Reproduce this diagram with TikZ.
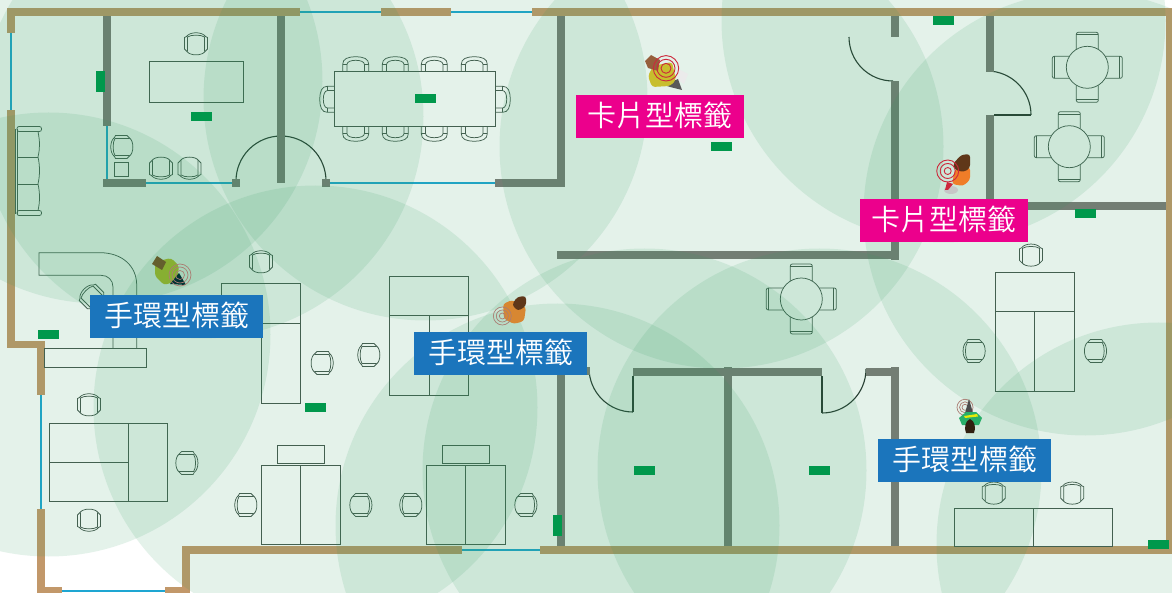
\documentclass[tikz,border=0pt]{standalone}
\usepackage{fontspec}
\newfontfamily\cjk{Noto Sans CJK TC DemiLight}
\definecolor{tan}{RGB}{194,152,106}
\definecolor{gw}{RGB}{125,122,120}
\definecolor{glass}{RGB}{30,166,210}
\definecolor{fur}{RGB}{70,88,78}
\definecolor{doorc}{RGB}{38,50,44}
\definecolor{wave}{RGB}{47,155,95}
\definecolor{beacon}{RGB}{0,152,76}
\definecolor{bandblue}{RGB}{27,117,188}
\definecolor{cardpink}{RGB}{236,0,140}
\definecolor{ringred}{RGB}{205,40,60}
\definecolor{ringpale}{RGB}{170,125,115}
\definecolor{yellowb}{RGB}{200,190,45}
\definecolor{orangeb}{RGB}{240,125,40}
\definecolor{tanb}{RGB}{215,135,50}
\definecolor{limeb}{RGB}{135,175,50}
\definecolor{greenb}{RGB}{40,175,105}
\definecolor{hair}{RGB}{95,55,25}
\definecolor{bag}{RGB}{150,95,60}
\definecolor{olivebag}{RGB}{100,95,45}
\tikzset{
  x=1pt,y=-1pt,
  tanw/.style={fill=tan,draw=none},
  grayw/.style={fill=gw,draw=none},
  glassline/.style={draw=glass,line width=2pt},
  furn/.style={draw=fur,line width=0.75pt,fill=none},
  doorline/.style={draw=doorc,line width=1.1pt},
  cover/.style={fill=wave,fill opacity=0.125,draw=none},
  beaconbox/.style={fill=beacon,draw=none},
  taglabel/.style={text=white,font=\cjk\fontsize{29}{29}\selectfont,inner sep=0pt,anchor=center},
  softbody/.style={rounded corners=3pt},
  pics/tubchair/.style={code={
    \draw[furn] (-9.5,-7.5) .. controls (-6,-12.5) and (6,-12.5) .. (9.5,-7.5) -- (11.5,-6.5) -- (11.5,5) -- (9,7.5) .. controls (6,12) and (-6,12) .. (-9,7.5) -- (-11.5,5) -- (-11.5,-6.5) -- cycle;
    \draw[furn] (-8.5,7.5) -- (-8.5,-7) .. controls (-5,-9.5) and (5,-9.5) .. (8.5,-7) -- (8.5,7.5);
  }},
  pics/confchair/.style={code={
    \draw[furn] (-13,0) -- (-13,-7) .. controls (-13,-12.5) and (-8,-14.5) .. (0,-14.5) .. controls (8,-14.5) and (13,-12.5) .. (13,-7) -- (13,0);
    \draw[furn] (-8.7,0) -- (-8.7,-7) .. controls (-8.5,-9.5) and (-5,-11) .. (0,-11) .. controls (5,-11) and (8.5,-9.5) .. (8.7,-7) -- (8.7,0);
    \draw[furn] (-13,-7) -- (-8.7,-7) (13,-7) -- (8.7,-7);
  }},
  pics/roundset/.style={code={
    \foreach \a in {0,90,180,270}{
      \begin{scope}[rotate=\a]
      \draw[furn,rounded corners=2pt] (-11,-18) -- (-11,-35) -- (11,-35) -- (11,-18);
      \draw[furn] (-11,-32.5) -- (11,-32.5);
      \end{scope}
    }
    \draw[furn] (0,0) circle[radius=21pt];
  }},
}
\begin{document}
\begin{tikzpicture}
\useasboundingbox (0,0) rectangle (1172,593);
\fill[white] (0,0) rectangle (1172,593);
\begin{scope}
\clip (0,0) rectangle (1172,593);
% glass
\draw[glassline] (11,33) -- (11,110);
\draw[glassline] (300,12) -- (381,12) (451,12) -- (532,12);
\draw[glassline] (41,395) -- (41,510);
\draw[glassline] (62,591) -- (165,591);
\draw[glassline] (462,550) -- (540,550);
\draw[glassline] (107,126) -- (107,180);
\draw[glassline] (146,183) -- (232,183);
\draw[glassline] (330,183) -- (495,183);
% door arcs
\draw[doorline] (236,181) arc[start angle=180,end angle=0,radius=45pt];
\draw[doorline] (849,37) arc[start angle=180,end angle=270,radius=44pt];
\draw[doorline] (987,71) arc[start angle=90,end angle=0,radius=44pt];
\draw[doorline] (994,115) -- (1031,115);
\draw[doorline] (589,368) arc[start angle=180,end angle=270,radius=44pt];
\draw[doorline] (633,376) -- (633,412);
\draw[doorline] (822,413) arc[start angle=270,end angle=360,radius=44pt];
\draw[doorline] (822,376) -- (822,413);
% gray walls
\fill[grayw] (103,15) rectangle (111,126);
\fill[grayw] (103,179) rectangle (146,187);
\fill[grayw] (232,179) rectangle (240,187);
\fill[grayw] (277,15) rectangle (285,183);
\fill[grayw] (322,179) rectangle (330,187);
\fill[grayw] (495,179) rectangle (565,187);
\fill[grayw] (557,15) rectangle (565,187);
\fill[grayw] (557,251) rectangle (899,259);
\fill[grayw] (891,15) rectangle (899,37);
\fill[grayw] (891,81) rectangle (899,260);
\fill[grayw] (986,15) rectangle (994,72);
\fill[grayw] (986,115) rectangle (994,210);
\fill[grayw] (986,202) rectangle (1166,210);
\fill[grayw] (557,367) rectangle (565,546);
\fill[grayw] (557,367) rectangle (590,375);
\fill[grayw] (724,367) rectangle (732,546);
\fill[grayw] (633,368) rectangle (822,376);
\fill[grayw] (866,368) rectangle (891,376);
\fill[grayw] (891,367) rectangle (899,546);
% tan walls
\fill[tanw] (7,8) rectangle (300,16);
\fill[tanw] (7,8) rectangle (15,33);
\fill[tanw] (381,8) rectangle (451,16);
\fill[tanw] (532,8) rectangle (1172,16);
\fill[tanw] (7,110) rectangle (15,348);
\fill[tanw] (7,341) rectangle (45,348);
\fill[tanw] (37,341) rectangle (45,395);
\fill[tanw] (37,509) rectangle (45,593);
\fill[tanw] (37,587) rectangle (62,593);
\fill[tanw] (165,587) rectangle (190,593);
\fill[tanw] (182,546) rectangle (190,593);
\fill[tanw] (182,546) rectangle (462,554);
\fill[tanw] (540,546) rectangle (1172,554);
\fill[tanw] (1166,8) rectangle (1172,554);
% furniture: room 1
\draw[furn] (149.3,61.3) rectangle (243,102.3);
\pic at (196,44) {tubchair};
\pic[rotate=180] at (161,168) {tubchair};
\pic[rotate=180] at (189.5,168) {tubchair};
\pic[rotate=90] at (122,147) {tubchair};
\draw[furn] (114.3,162.3) rectangle (128.7,176.7);
% sofa
\draw[furn] (15,129) -- (15,214);
\draw[furn] (17,129) -- (17,214);
\draw[furn,rounded corners=2pt] (17,126.5) rectangle (41.5,131.5);
\draw[furn,rounded corners=2pt] (17,210.5) rectangle (41.5,215.5);
\draw[furn] (38,131.5) .. controls (40,142) and (40,148) .. (38,157) .. controls (40,166) and (40,175) .. (38,184) .. controls (40,193) and (40,202) .. (38,210.5);
\draw[furn] (17,157) -- (38,157) (17,184) -- (38,184);
% conference
\draw[furn] (334.3,71.3) rectangle (495.7,126.7);
\foreach \cx in {355.7,395.3,434.3,474.3}{
  \pic at (\cx,71.3) {confchair};
  \pic[rotate=180] at (\cx,126.7) {confchair};
}
\pic[rotate=90] at (334.3,99.3) {confchair};
\pic[rotate=-90] at (495.7,99.3) {confchair};
% round tables
\pic at (1087.3,67.3) {roundset};
\pic at (1069.3,146.7) {roundset};
\pic at (801.3,299) {roundset};
% L desk
\draw[furn] (113,348) -- (113,287) .. controls (113,280) and (108,275.3) .. (101,275.3) -- (39,275.3) -- (39,252.7) -- (100,252.7) .. controls (122,252.7) and (136.7,266) .. (136.7,285) -- (136.7,348.3);
\pic[rotate=45] at (92,297) {tubchair};
\draw[furn] (44.3,348.3) rectangle (146.3,367.7);
% desks
\draw[furn] (221.3,283.7) rectangle (300.3,323.3);
\draw[furn] (261,323.3) rectangle (300.3,403.3);
\pic at (261,262) {tubchair};
\pic[rotate=-90] at (322,363) {tubchair};
\draw[furn] (389,276) rectangle (468.5,395);
\draw[furn] (389,315.5) -- (468.5,315.5) (429,315.5) -- (429,395);
\pic[rotate=90] at (369,355) {tubchair};
\draw[furn] (49,423.3) rectangle (167.7,501.7);
\draw[furn] (128.3,423.3) -- (128.3,501.7) (49,462.3) -- (128.3,462.3);
\pic at (89,405) {tubchair};
\pic[rotate=180] at (89,520) {tubchair};
\pic[rotate=-90] at (186.7,463) {tubchair};
\draw[furn] (261,465.7) rectangle (340.3,544.3);
\draw[furn] (300.3,465.7) -- (300.3,544.3);
\draw[furn] (277.3,445) rectangle (324,463.3);
\pic[rotate=90] at (246,505) {tubchair};
\pic[rotate=-90] at (360.7,505) {tubchair};
\draw[furn] (426.3,465.7) rectangle (505.7,544.3);
\draw[furn] (465.7,465.7) -- (465.7,544.3);
\draw[furn] (442.3,445) rectangle (489.3,463.3);
\pic[rotate=90] at (411,505) {tubchair};
\pic[rotate=-90] at (525.7,505) {tubchair};
\draw[furn] (995.3,272.3) rectangle (1074.3,391.3);
\draw[furn] (995.3,311.3) -- (1074.3,311.3) (1034.7,311.3) -- (1034.7,391.3);
\pic at (1031,255.3) {tubchair};
\pic[rotate=90] at (974.3,351) {tubchair};
\pic[rotate=-90] at (1095.3,351) {tubchair};
\draw[furn] (954,508.3) rectangle (1112,546);
\draw[furn] (1033.3,508.3) -- (1033.3,546);
\pic at (993.7,493.3) {tubchair};
\pic at (1072.3,493.3) {tubchair};
% coverage circles
\foreach \cx/\cy in {100.5/81.5,201.5/116.5,425.5/98.5,721.5/146.5,943.5/20.5,1085.5/213.5,48.5/334.5,315.5/407.5,644.5/470.5,819.5/470.5,557.5/525.5,1158.5/544.5}{
  \fill[cover] (\cx,\cy) circle[radius=222pt];
}
% beacons
\fill[beaconbox] (96,71) rectangle (105,92);
\fill[beaconbox] (191,112) rectangle (212,121);
\fill[beaconbox] (415,94) rectangle (436,103);
\fill[beaconbox] (711,142) rectangle (732,151);
\fill[beaconbox] (933,16) rectangle (954,25);
\fill[beaconbox] (1075,209) rectangle (1096,218);
\fill[beaconbox] (38,330) rectangle (59,339);
\fill[beaconbox] (305,403) rectangle (326,412);
\fill[beaconbox] (634,466) rectangle (655,475);
\fill[beaconbox] (809,466) rectangle (830,475);
\fill[beaconbox] (553,515) rectangle (562,536);
\fill[beaconbox] (1148,540) rectangle (1169,549);
% person: card, top centre
\fill[black!8] (680,70) -- (688,74) -- (684,84) -- (678,80) -- cycle;
\fill[black!65] (664,85) -- (678,79) -- (682,90) -- (678,89) -- (670,87) -- cycle;
\fill[yellowb,softbody] (653,66) -- (672,62) -- (676,80) -- (670,86) -- (652,87) -- (648,76) -- cycle;
\fill[bag] (651,55) -- (660,60) -- (658,71) -- (648,68) -- (645,61) -- cycle;
\draw[ringred,line width=0.9pt] (666,68.3) circle[radius=12.7pt] (666,68.3) circle[radius=9pt] (666,68.3) circle[radius=5pt];
% person: card, right
\fill[black!22] (951,190) circle[x radius=7pt,y radius=4pt];
\fill[orangeb,softbody] (955,169) -- (970,167) -- (970,180) -- (963,186) -- (952,184) -- cycle;
\fill[ringred] (945,190) -- (947,182) -- (953,184) -- (948,190) -- cycle;
\fill[hair,softbody] (953,164) -- (961,155) -- (970,154) -- (970,168) -- (964,172) -- (955,170) -- cycle;
\draw[ringred,line width=0.9pt] (947.7,171) circle[radius=11pt] (947.7,171) circle[radius=7.5pt] (947.7,171) circle[radius=3.5pt];
% person: band, left
\fill[limeb,softbody] (155,262) -- (171,258) -- (179,266) -- (177,281) -- (164,285) -- (155,276) -- cycle;
\fill[black!60!teal] (170,284) -- (179,273) -- (186,285) -- cycle;
\fill[olivebag] (157,256) -- (166,262) -- (162,270) -- (152,264) -- cycle;
\draw[ringpale,line width=0.7pt] (180,275) circle[radius=11pt] (180,275) circle[radius=8pt] (180,275) circle[radius=4.5pt];
% person: band, middle
\fill[tanb,softbody] (503,304) -- (512,300) -- (526,307) -- (524,321) -- (514,324) -- (504,319) -- cycle;
\fill[hair,softbody] (512,305) -- (517,297) -- (526,296) -- (526,306) -- (518,311) -- cycle;
\draw[ringpale,line width=0.7pt] (502.3,316) circle[radius=9pt] (502.3,316) circle[radius=6pt] (502.3,316) circle[radius=3pt];
% person: band, bottom right
\draw[ringpale,line width=0.7pt] (965,407.3) circle[radius=8pt] (965,407.3) circle[radius=5.5pt] (965,407.3) circle[radius=3pt];
\fill[black!70] (969,399) -- (973,413) -- (965,413) -- cycle;
\fill[greenb] (959,418) -- (966,412) -- (976,412) -- (982,418) -- (979,425) -- (962,425) -- cycle;
\fill[yellow!90!green] (964,416) -- (977,414) -- (978,416.5) -- (965,418) -- cycle;
\fill[black!75!brown] (970,419) .. controls (975,421) and (976,428) .. (974,433) -- (966,433) .. controls (964,428) and (965,421) .. (970,419) -- cycle;
% labels
\fill[bandblue] (90,295) rectangle (263,338);
\node[taglabel] (band1) at (176.5,315.5) {手環型標籤};
\fill[bandblue] (414,332) rectangle (587,375);
\node[taglabel] (band2) at (500.5,352.5) {手環型標籤};
\fill[bandblue] (878,439) rectangle (1051,482);
\node[taglabel] (band3) at (964.5,459.5) {手環型標籤};
\fill[cardpink] (576,95) rectangle (744,138);
\node[taglabel] (card1) at (660,115.5) {卡片型標籤};
\fill[cardpink] (860,199) rectangle (1028,242);
\node[taglabel] (card2) at (944,219.5) {卡片型標籤};
\end{scope}
\end{tikzpicture}
\end{document}
